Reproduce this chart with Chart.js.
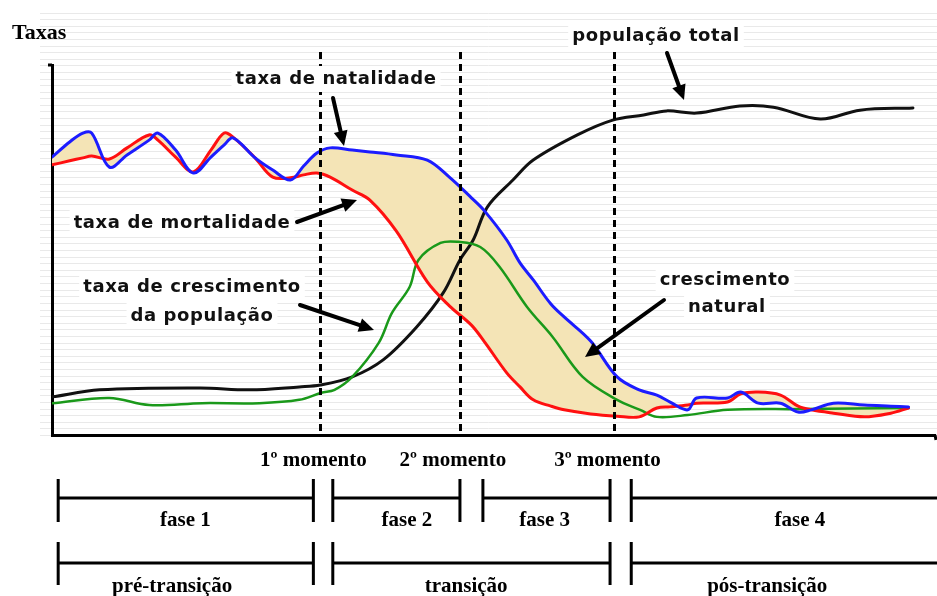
<!DOCTYPE html>
<html lang="pt">
<head>
<meta charset="UTF-8">
<title>Transição demográfica</title>
<script src="https://cdn.jsdelivr.net/npm/chart.js"></script>
<style>
  html, body { margin: 0; padding: 0; background: #fff; }
  #wrap { width: 937px; height: 596px; }
</style>
</head>
<body>
<div id="wrap"><canvas id="transicao"></canvas></div>
<script>
// tempo (0-100) shared by birth and death rates
const tempo = [0, 2, 3.5, 4.5, 6.5, 8.5, 11, 12, 14, 16, 18, 19.5, 20.5, 23, 25, 27, 28.5, 30, 31.5, 34,
  36, 39, 42.5, 45, 47.5, 49, 51.5, 53, 54.5, 56.5, 58, 61, 64, 66.5, 68.5, 70, 72, 73, 76.5, 78,
  80, 82.5, 84.5, 86, 88.5, 92, 95, 97];
const natalidade = [75.1, 79.2, 81.6, 81.6, 72.4, 75.7, 79.7, 81.6, 77.0, 70.8, 75.1, 78.4, 80.3, 74.9, 71.6, 68.9, 72.7, 76.2, 77.6, 77.0,
  76.5, 75.7, 74.3, 69.7, 64.1, 60.5, 52.7, 46.5, 41.9, 35.4, 31.9, 25.4, 15.7, 12.2, 10.8, 8.9, 6.8, 10.0, 10.0, 11.6,
  8.6, 8.6, 6.2, 6.8, 8.6, 8.1, 7.8, 7.6];
const mortalidade = [73.0, 74.1, 74.9, 75.4, 74.6, 77.6, 81.1, 79.7, 75.1, 71.1, 77.0, 81.6, 80.5, 74.9, 69.7, 69.5, 70.3, 70.8, 69.7, 66.2,
  63.5, 55.1, 41.4, 34.9, 29.7, 25.1, 16.8, 13.0, 9.5, 7.8, 6.8, 5.7, 5.1, 4.9, 7.3, 7.6, 8.1, 8.6, 8.9, 11.1,
  11.6, 10.8, 7.8, 6.8, 5.9, 4.9, 5.9, 7.3];

const tempoCrescimento = [0, 6.5, 11, 17, 23.5, 28, 30.5, 32, 34, 37, 38.5, 40.5, 41.5, 44, 46, 48.5, 50.7, 53.8, 56.7, 60.1,
  64, 66.6, 68.5, 72, 76.5, 84.7, 97];
const crescimento = [8.6, 10.0, 8.1, 8.6, 8.6, 9.5, 11.4, 12.2, 15.7, 24.9, 33.0, 40.0, 47.3, 51.9, 52.2, 50.8, 45.4, 34.6, 26.5, 15.7,
  9.5, 6.8, 4.9, 5.4, 6.8, 7.0, 7.3];

const tempoPopulacao = [0, 5.4, 16.8, 22.4, 28, 30.4, 34, 37.5, 41.3, 44.3, 46.2, 47.7, 49.3, 52.2, 54.5, 59.5, 63.5, 67, 69.6, 73,
  77.9, 81.7, 87, 91.5, 97.5];
const populacao = [10.3, 12.2, 12.7, 12.2, 13.0, 13.5, 15.7, 20.3, 29.2, 38.4, 47.3, 52.7, 61.6, 68.9, 74.3, 81.1, 85.1, 86.5, 87.6, 87.0,
  88.9, 88.6, 85.4, 87.8, 88.4];

// moments and phases along the time axis
const momentos = [30.4, 46.2, 63.7];
const momentoLabels = ['1º momento', '2º momento', '3º momento'];
const fases = [[0.7, 29.6], [31.8, 46.2], [48.8, 63.2], [65.6, 101]];
const faseLabels = ['fase 1', 'fase 2', 'fase 3', 'fase 4'];
const faseLabelX = [15.1, 40.2, 55.8, 84.7];
const etapas = [[0.7, 29.6], [31.8, 63.2], [65.6, 101]];
const etapaLabels = ['pré-transição', 'transição', 'pós-transição'];
const etapaLabelX = [13.6, 46.9, 81.0];

function pontos(xs, ys) {
  return xs.map((x, i) => ({ x: x, y: ys[i] }));
}

// annotation layout (pixels)
const rotulos = [
  { text: 'população total', x: 656, y: 36 },
  { text: 'taxa de natalidade', x: 336, y: 79 },
  { text: 'taxa de mortalidade', x: 182, y: 223 },
  { text: 'taxa de crescimento', x: 192, y: 287 },
  { text: 'da população', x: 202, y: 316 },
  { text: 'crescimento', x: 725, y: 280 },
  { text: 'natural', x: 727, y: 307 }
];
const setas = [
  [333, 98, 344, 146],
  [667, 53, 684, 100],
  [297, 222, 357, 200],
  [300, 305, 374, 330],
  [664, 300, 585, 357]
];

function seta(ctx, x1, y1, x2, y2) {
  const ang = Math.atan2(y2 - y1, x2 - x1);
  const len = 15, w = 7;
  ctx.beginPath();
  ctx.moveTo(x1, y1);
  ctx.lineTo(x2 - Math.cos(ang) * 8, y2 - Math.sin(ang) * 8);
  ctx.lineWidth = 4;
  ctx.stroke();
  ctx.beginPath();
  ctx.moveTo(x2, y2);
  ctx.lineTo(x2 - len * Math.cos(ang) - w * Math.sin(ang), y2 - len * Math.sin(ang) + w * Math.cos(ang));
  ctx.lineTo(x2 - len * Math.cos(ang) + w * Math.sin(ang), y2 - len * Math.sin(ang) - w * Math.cos(ang));
  ctx.closePath();
  ctx.fill();
}

const desenhos = {
  id: 'desenhos',
  beforeDraw(chart) {
    const ctx = chart.ctx;
    ctx.save();
    ctx.fillStyle = '#fff';
    ctx.fillRect(0, 0, chart.width, chart.height);
    // faint scan lines of the original figure
    ctx.strokeStyle = '#e9e9e9';
    ctx.lineWidth = 1;
    for (let y = 12.5; y < 436; y += 6.6) {
      ctx.beginPath();
      ctx.moveTo(40, Math.round(y) + 0.5);
      ctx.lineTo(chart.width, Math.round(y) + 0.5);
      ctx.stroke();
    }
    ctx.restore();
  },
  afterDatasetsDraw(chart) {
    const ctx = chart.ctx;
    const xs = chart.scales.x;
    const area = chart.chartArea;
    ctx.save();

    // dashed moment lines
    ctx.strokeStyle = '#000';
    ctx.lineWidth = 3;
    ctx.setLineDash([7, 5]);
    momentos.forEach(m => {
      const px = Math.round(xs.getPixelForValue(m)) + 0.5;
      ctx.beginPath();
      ctx.moveTo(px, 52);
      ctx.lineTo(px, area.bottom);
      ctx.stroke();
    });
    ctx.setLineDash([]);

    // sans labels with white boxes
    ctx.font = "bold 18px 'DejaVu Sans'";
    ctx.letterSpacing = '0.6px';
    ctx.textAlign = 'center';
    ctx.textBaseline = 'middle';
    rotulos.forEach(r => {
      const w = ctx.measureText(r.text).width;
      ctx.fillStyle = '#fff';
      ctx.fillRect(r.x - w / 2 - 4, r.y - 13, w + 8, 26);
    });
    ctx.fillStyle = '#111';
    rotulos.forEach(r => ctx.fillText(r.text, r.x, r.y));
    ctx.letterSpacing = '0px';

    // arrows
    ctx.strokeStyle = '#000';
    ctx.fillStyle = '#000';
    ctx.lineCap = 'round';
    setas.forEach(s => seta(ctx, s[0], s[1], s[2], s[3]));

    // y axis title
    ctx.font = "bold 22px 'Liberation Serif'";
    ctx.textAlign = 'left';
    ctx.textBaseline = 'alphabetic';
    ctx.fillText('Taxas', 12, 39);

    // moment labels under the axis
    ctx.textAlign = 'center';
    ctx.textBaseline = 'middle';
    ctx.font = "bold 21px 'Liberation Serif'";
    momentos.forEach((m, i) => {
      ctx.fillText(momentoLabels[i], xs.getPixelForValue(m) - 7, 461);
    });

    // phase bars
    function barras(lista, yLinha, yTop, yBot) {
      ctx.lineWidth = 3;
      ctx.lineCap = 'butt';
      lista.forEach(seg => {
        const a = xs.getPixelForValue(seg[0]);
        const b = Math.min(xs.getPixelForValue(seg[1]), chart.width);
        ctx.beginPath();
        ctx.moveTo(a, yLinha);
        ctx.lineTo(b, yLinha);
        ctx.moveTo(a, yTop);
        ctx.lineTo(a, yBot);
        if (seg[1] <= 100) {
          ctx.moveTo(b, yTop);
          ctx.lineTo(b, yBot);
        }
        ctx.stroke();
      });
    }
    barras(fases, 498, 479, 522);
    barras(etapas, 563, 542, 585);
    faseLabels.forEach((t, i) => ctx.fillText(t, xs.getPixelForValue(faseLabelX[i]), 521));
    etapaLabels.forEach((t, i) => ctx.fillText(t, xs.getPixelForValue(etapaLabelX[i]), 587));

    // small hooks at axis ends
    ctx.lineWidth = 3;
    ctx.beginPath();
    ctx.moveTo(area.left - 4, area.top);
    ctx.lineTo(area.left, area.top);
    ctx.moveTo(area.right, area.bottom);
    ctx.lineTo(area.right + 1, area.bottom + 5);
    ctx.stroke();
    ctx.restore();
  }
};

const bege = '#f4e4b6';

new Chart(document.getElementById('transicao'), {
  type: 'line',
  data: {
    datasets: [
      { label: 'taxa de natalidade', data: pontos(tempo, natalidade), borderColor: '#1c1cff', borderWidth: 3, fill: false },
      { label: 'taxa de mortalidade', data: pontos(tempo, mortalidade), borderColor: '#ff1010', borderWidth: 3,
        fill: '-1', backgroundColor: bege },
      { label: 'taxa de crescimento da população', data: pontos(tempoCrescimento, crescimento), borderColor: '#1a991a', borderWidth: 2.5, fill: false },
      { label: 'população total', data: pontos(tempoPopulacao, populacao), borderColor: '#111', borderWidth: 3, fill: false }
    ]
  },
  options: {
    responsive: true,
    maintainAspectRatio: false,
    animation: false,
    layout: { padding: { left: 52, top: 65, right: 2, bottom: 161 } },
    elements: {
      point: { radius: 0 },
      line: { tension: 0.35, borderCapStyle: 'round', borderJoinStyle: 'round' }
    },
    scales: {
      x: {
        type: 'linear', min: 0, max: 100,
        grid: { display: false, drawTicks: false },
        ticks: { display: false },
        border: { display: true, color: '#000', width: 3 }
      },
      y: {
        min: 0, max: 100,
        grid: { display: false, drawTicks: false },
        ticks: { display: false },
        border: { display: true, color: '#000', width: 3 }
      }
    },
    plugins: {
      legend: { display: false },
      tooltip: { enabled: false },
      filler: { drawTime: 'beforeDatasetsDraw' }
    }
  },
  plugins: [desenhos]
});
</script>
</body>
</html>
